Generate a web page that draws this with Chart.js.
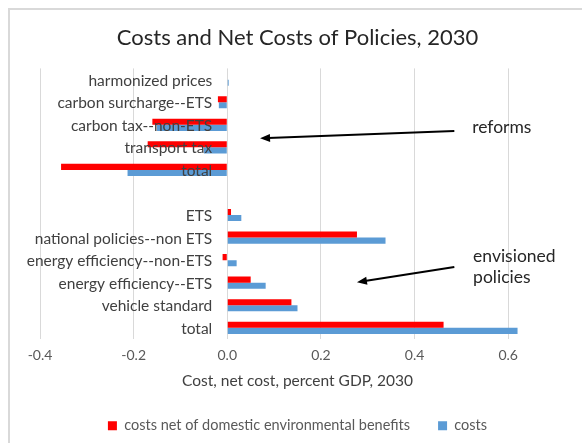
<!DOCTYPE html>
<html>
<head>
<meta charset="utf-8">
<script src="https://cdn.jsdelivr.net/npm/chart.js@4.4.1/dist/chart.umd.min.js"></script>
<style>
    html, body { margin: 0; padding: 0; background: #fff; }
    #frame {
        position: absolute; left: 8px; top: 8px; width: 620px; height: 480px;
        border-left: 2px solid #d9d9d9; border-top: 2px solid #d9d9d9;
    }
    #wrap { position: absolute; left: 0; top: 0; width: 582px; height: 443px; }
</style>
</head>
<body>
<div id="frame"></div>
<div id="wrap"><canvas id="policyChart"></canvas></div>
<script>
// Chart data
const categories = [
    'harmonized prices', 'carbon surcharge--ETS', 'carbon tax--non-ETS', 'transport tax', 'total',
    '',
    'ETS', 'national policies--non ETS', 'energy efficiency--non-ETS', 'energy efficiency--ETS',
    'vehicle standard', 'total'
];
const netCosts = [0, -0.02, -0.16, -0.17, -0.355, null, 0.008, 0.277, -0.01, 0.05, 0.137, 0.462];
const costs = [0.003, -0.018, -0.15, -0.05, -0.213, null, 0.03, 0.338, 0.02, 0.082, 0.15, 0.62];
const xTicks = [-0.4, -0.2, 0, 0.2, 0.4, 0.6];
const seriesNames = ['costs net of domestic environmental benefits', 'costs'];

// Callout notes, placed in data units (x value, category index)
const callouts = [
    { lines: ['reforms'], text: [0.523, 2.12], from: [0.485, 2.28], to: [0.07, 2.6] },
    { lines: ['envisioned', 'policies'], text: [0.525, 7.83], from: [0.485, 8.3], to: [0.277, 8.98] }
];

const FONT = 'Lato';

// Category names drawn next to the zero line, on top of the bars
const categoryLabels = {
    id: 'categoryLabels',
    afterDatasetsDraw(chart) {
        const { ctx, scales: { x, y } } = chart;
        const x0 = x.getPixelForValue(0);
        ctx.save();
        ctx.font = '15.5px ' + FONT;
        ctx.fillStyle = '#404040';
        ctx.textAlign = 'right';
        ctx.textBaseline = 'middle';
        categories.forEach((c, i) => {
            ctx.fillText(c, x0 - 15, y.getPixelForValue(i) + 1);
        });
        ctx.restore();
    }
};

// Arrows with notes
const calloutPlugin = {
    id: 'callouts',
    afterDatasetsDraw(chart) {
        const { ctx, scales: { x, y } } = chart;
        ctx.save();
        callouts.forEach(c => {
            const x1 = x.getPixelForValue(c.from[0]), y1 = y.getPixelForValue(c.from[1]);
            const x2 = x.getPixelForValue(c.to[0]), y2 = y.getPixelForValue(c.to[1]);
            const ang = Math.atan2(y2 - y1, x2 - x1);
            const head = 10;
            ctx.strokeStyle = '#000';
            ctx.fillStyle = '#000';
            ctx.lineWidth = 2;
            ctx.beginPath();
            ctx.moveTo(x1, y1);
            ctx.lineTo(x2 - Math.cos(ang) * head * 0.8, y2 - Math.sin(ang) * head * 0.8);
            ctx.stroke();
            ctx.beginPath();
            ctx.moveTo(x2, y2);
            ctx.lineTo(x2 - head * Math.cos(ang) + 4 * Math.sin(ang), y2 - head * Math.sin(ang) - 4 * Math.cos(ang));
            ctx.lineTo(x2 - head * Math.cos(ang) - 4 * Math.sin(ang), y2 - head * Math.sin(ang) + 4 * Math.cos(ang));
            ctx.closePath();
            ctx.fill();

            ctx.font = '17.5px ' + FONT;
            ctx.fillStyle = '#262626';
            ctx.textAlign = 'left';
            ctx.textBaseline = 'middle';
            const tx = x.getPixelForValue(c.text[0]), ty = y.getPixelForValue(c.text[1]);
            c.lines.forEach((line, i) => ctx.fillText(line, tx, ty + i * 21));
        });
        ctx.restore();
    }
};

const ctx = document.getElementById('policyChart');
new Chart(ctx, {
    type: 'bar',
    data: {
        labels: categories,
        datasets: [{
            label: seriesNames[0],
            data: netCosts,
            backgroundColor: '#ff0000'
        }, {
            label: seriesNames[1],
            data: costs,
            backgroundColor: '#5b9bd5'
        }]
    },
    options: {
        indexAxis: 'y',
        responsive: true,
        maintainAspectRatio: false,
        animation: false,
        barPercentage: 1,
        categoryPercentage: 0.54,
        layout: {
            padding: { left: 40, right: 27, top: 0, bottom: 0 }
        },
        plugins: {
            title: {
                display: true,
                text: 'Costs and Net Costs of Policies, 2030',
                color: '#262626',
                font: { family: FONT, size: 22, weight: 'normal' },
                padding: { top: 25, bottom: 17 }
            },
            legend: {
                position: 'bottom',
                labels: {
                    color: '#595959',
                    font: { family: FONT, size: 14.5 },
                    boxWidth: 9,
                    boxHeight: 9,
                    padding: 28
                }
            },
            tooltip: { enabled: false }
        },
        scales: {
            x: {
                min: -0.4,
                max: 0.7,
                afterBuildTicks: scale => {
                    scale.ticks = xTicks.map(v => ({ value: v }));
                },
                grid: { color: '#d9d9d9', drawTicks: false },
                border: { display: false },
                ticks: {
                    padding: 8,
                    color: '#595959',
                    font: { family: FONT, size: 14 },
                    callback: v => v.toFixed(1)
                },
                title: {
                    display: true,
                    text: 'Cost, net cost, percent GDP, 2030',
                    color: '#404040',
                    font: { family: FONT, size: 15.5 },
                    padding: { top: 0, bottom: 0 }
                }
            },
            y: {
                display: false
            }
        }
    },
    plugins: [categoryLabels, calloutPlugin]
});
</script>
</body>
</html>
